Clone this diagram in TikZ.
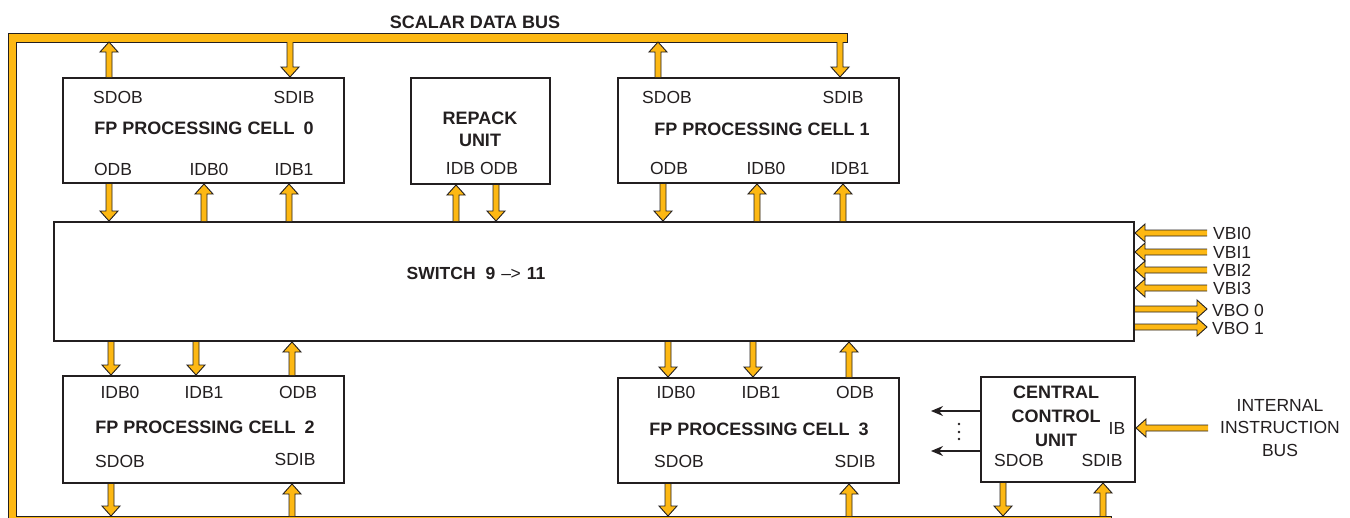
\documentclass[tikz,border=0pt]{standalone}
\usepackage{fontspec}
\setmainfont{Liberation Sans}
\usetikzlibrary{calc,arrows.meta}
\definecolor{busy}{RGB}{253,184,19}
\definecolor{ink}{RGB}{35,31,32}
\tikzset{
  box/.style={draw=ink,line width=2pt,fill=white,inner sep=0pt,anchor=north west},
  lbl/.style={font=\fontsize{17.5}{22.5}\selectfont,text=ink,inner sep=0pt},
  blbl/.style={font=\fontsize{18}{23}\selectfont\bfseries,text=ink,inner sep=0pt,align=center},
  bus/.style={draw=ink,fill=busy,line width=0.9pt,line join=miter},
  ctlarrow/.style={draw=ink,line width=1.2pt,-{Stealth[length=12pt,width=10pt]}},
}
% vertical fat arrow at x=#1 from y of #2 to y of #3 (tip at #3)
\newcommand\vbus[3]{\path[bus] let \p1=(#2),\p2=(#3),\p4=(#1pt,\y1),\p5=(#1pt,\y2),\p3=($(\p5)!10pt!(\p4)$) in
  (\x4-3pt,\y4) -- (\x4-3pt,\y3) -- (\x4-9pt,\y3) -- (\p5) -- (\x4+9pt,\y3) -- (\x4+3pt,\y3) -- (\x4+3pt,\y4);}
% horizontal fat arrow at y=#1 from x of #2 to x of #3 (tip at #3)
\newcommand\hbus[3]{\path[bus] let \p1=(#2),\p2=(#3),\p4=(\x1,-#1pt),\p5=(\x2,-#1pt),\p3=($(\p5)!10pt!(\p4)$) in
  (\x4,\y4-3pt) -- (\x3,\y4-3pt) -- (\x3,\y4-9pt) -- (\p5) -- (\x3,\y4+9pt) -- (\x3,\y4+3pt) -- (\x4,\y4+3pt);}
\begin{document}
\begin{tikzpicture}[x=1pt,y=-1pt]
\useasboundingbox (0,0) rectangle (1350,517);
% scalar data bus
\begin{scope}
  \clip (0,0) rectangle (1350,517);
  \path[bus] (8,33) -- (847,33) -- (847,42) -- (16,42) -- (16,516) -- (1111,516) -- (1111,530) -- (8,530) -- cycle;
\end{scope}
\coordinate (sbT) at (0,42);
\coordinate (sbB) at (0,516);
\node[blbl] (sdb) at (475,22) {SCALAR DATA BUS};

% boxes
\node[box,minimum width=281pt,minimum height=105pt] (c0) at (62,77) {};
\node[box,minimum width=139pt,minimum height=106pt] (rp) at (410,77) {};
\node[box,minimum width=281pt,minimum height=105pt] (c1) at (617,77) {};
\node[box,minimum width=1080pt,minimum height=119pt] (sw) at (53,221) {};
\node[box,minimum width=281pt,minimum height=107pt] (c2) at (62,375) {};
\node[box,minimum width=281pt,minimum height=105pt] (c3) at (617,377) {};
\node[box,minimum width=154pt,minimum height=105pt] (cc) at (980,376) {};

% cell 0
\node[lbl] (c0sdob) at (118,97) {SDOB};
\node[lbl] (c0sdib) at (294,97) {SDIB};
\node[blbl] (c0t) at (204,128) {FP PROCESSING CELL\hspace{9pt}0};
\node[lbl] (c0odb) at (113,169) {ODB};
\node[lbl] (c0idb0) at (209,169) {IDB0};
\node[lbl] (c0idb1) at (294,169) {IDB1};
% repack
\node[blbl,font=\fontsize{18}{22}\selectfont\bfseries] (rpt) at (480,129) {REPACK\\UNIT};
\node[lbl] (rpio) at (482,168) {IDB\hspace{5pt}ODB};
% cell 1
\node[lbl] (c1sdob) at (667,97) {SDOB};
\node[lbl] (c1sdib) at (843,97) {SDIB};
\node[blbl] (c1t) at (762,129) {FP PROCESSING CELL 1};
\node[lbl] (c1odb) at (669,168) {ODB};
\node[lbl] (c1idb0) at (766,168) {IDB0};
\node[lbl] (c1idb1) at (850,168) {IDB1};
% switch
\node[lbl] (swt) at (476,273) {{\bfseries SWITCH\hspace{10pt}9}\hspace{6pt}–\kern-0.5pt>\hspace{6pt}{\bfseries 11}};
% cell 2
\node[lbl] (c2idb0) at (120,392) {IDB0};
\node[lbl] (c2idb1) at (204,392) {IDB1};
\node[lbl] (c2odb) at (298,392) {ODB};
\node[blbl] (c2t) at (205,427) {FP PROCESSING CELL\hspace{9pt}2};
\node[lbl] (c2sdob) at (120,461) {SDOB};
\node[lbl] (c2sdib) at (295,459) {SDIB};
% cell 3
\node[lbl] (c3idb0) at (676,392) {IDB0};
\node[lbl] (c3idb1) at (761,392) {IDB1};
\node[lbl] (c3odb) at (855,392) {ODB};
\node[blbl] (c3t) at (759,429) {FP PROCESSING CELL\hspace{9pt}3};
\node[lbl] (c3sdob) at (679,461) {SDOB};
\node[lbl] (c3sdib) at (855,461) {SDIB};
% central control unit
\node[blbl,font=\fontsize{18}{24}\selectfont\bfseries] (cct) at (1056,416) {CENTRAL\\CONTROL\\UNIT};
\node[lbl] (ccib) at (1117,428) {IB};
\node[lbl] (ccsdob) at (1019,460) {SDOB};
\node[lbl] (ccsdib) at (1102,460) {SDIB};
\node[lbl,align=center] (iib) at (1280,428) {INTERNAL\\INSTRUCTION\\BUS};

% vector bus labels
\coordinate (vbi0) at (1207,233);
\coordinate (vbi1) at (1207,252);
\coordinate (vbi2) at (1207,270);
\coordinate (vbi3) at (1207,288);
\coordinate (vbo0) at (1207,309);
\coordinate (vbo1) at (1207,327);
\node[lbl,anchor=west] (lvbi0) at (1213,233) {VBI0};
\node[lbl,anchor=west] (lvbi1) at (1213,252) {VBI1};
\node[lbl,anchor=west] (lvbi2) at (1213,270) {VBI2};
\node[lbl,anchor=west] (lvbi3) at (1213,288) {VBI3};
\node[lbl,anchor=west] (lvbo0) at (1212,310) {VBO 0};
\node[lbl,anchor=west] (lvbo1) at (1212,328) {VBO 1};
\hbus{233}{vbi0}{sw.east}
\hbus{252}{vbi1}{sw.east}
\hbus{270}{vbi2}{sw.east}
\hbus{288}{vbi3}{sw.east}
\hbus{309}{sw.east}{vbo0}
\hbus{327}{sw.east}{vbo1}
\coordinate (ibs) at (1208,428);
\hbus{428}{ibs}{cc.east}

% scalar bus connections (top)
\vbus{109}{c0.north}{sbT}
\vbus{290}{sbT}{c0.north}
\vbus{658}{c1.north}{sbT}
\vbus{840}{sbT}{c1.north}
% top row <-> switch
\vbus{109}{c0.south}{sw.north}
\vbus{204}{sw.north}{c0.south}
\vbus{289}{sw.north}{c0.south}
\vbus{456}{sw.north}{rp.south}
\vbus{496}{rp.south}{sw.north}
\vbus{663}{c1.south}{sw.north}
\vbus{757}{sw.north}{c1.south}
\vbus{843}{sw.north}{c1.south}
% switch <-> bottom row
\vbus{111}{sw.south}{c2.north}
\vbus{196}{sw.south}{c2.north}
\vbus{292}{c2.north}{sw.south}
\vbus{668}{sw.south}{c3.north}
\vbus{753}{sw.south}{c3.north}
\vbus{849}{c3.north}{sw.south}
% scalar bus connections (bottom)
\vbus{111}{c2.south}{sbB}
\vbus{292}{sbB}{c2.south}
\vbus{668}{c3.south}{sbB}
\vbus{849}{sbB}{c3.south}
\vbus{1003}{cc.south}{sbB}
\vbus{1103}{sbB}{cc.south}

% control outputs
\coordinate (o1s) at (980,411);
\coordinate (o1e) at (931,411);
\coordinate (o2s) at (980,451);
\coordinate (o2e) at (931,451);
\draw[ctlarrow] (o1s) -- (o1e);
\draw[ctlarrow] (o2s) -- (o2e);
\fill[ink] (959,424) circle (1.3pt) (959,432) circle (1.3pt) (959,439) circle (1.3pt);
\end{tikzpicture}
\end{document}
